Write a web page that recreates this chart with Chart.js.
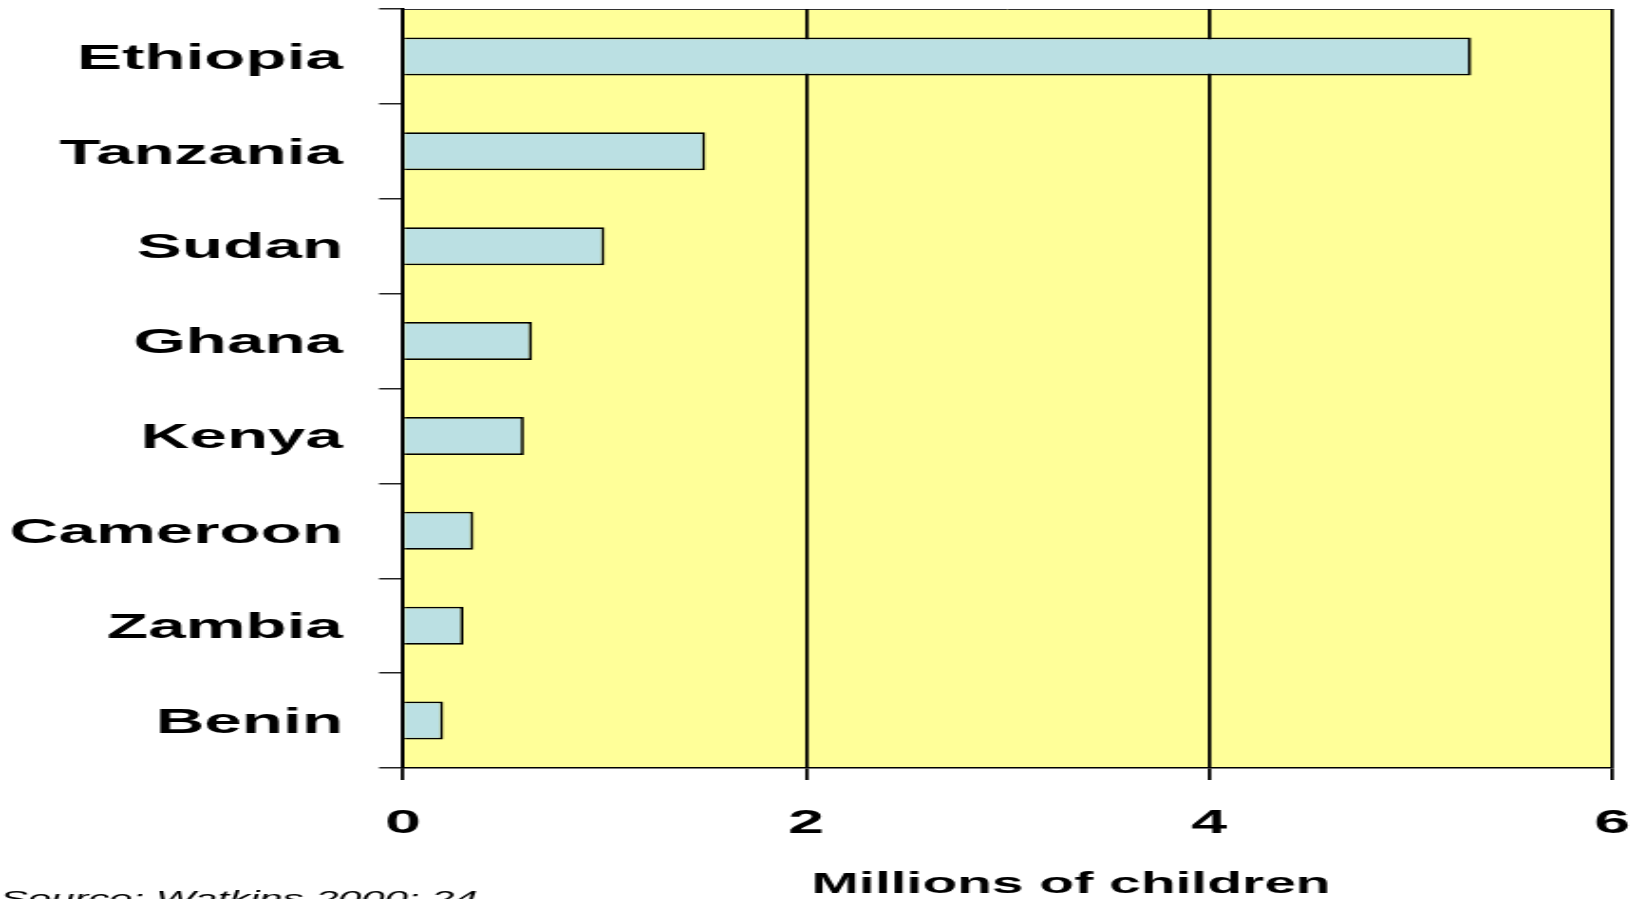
<!DOCTYPE html>
<html>
<head>
<meta charset="utf-8">
<script src="https://cdn.jsdelivr.net/npm/chart.js@4"></script>
<style>
  html, body { margin: 0; padding: 0; background: #fff; overflow: hidden; }
  /* the chart is laid out narrow and stretched sideways to the full page width */
  #wrap {
    width: 862px;
    height: 899px;
    transform: scaleX(1.899);
    transform-origin: 0 0;
  }
</style>
</head>
<body>
<div id="wrap"><canvas id="childrenChart"></canvas></div>
<script>
const countries = ['Ethiopia', 'Tanzania', 'Sudan', 'Ghana', 'Kenya', 'Cameroon', 'Zambia', 'Benin'];
const millionsOfChildren = [5.3, 1.5, 1.0, 0.64, 0.6, 0.35, 0.3, 0.2];
const xTicks = [0, 2, 4, 6];
const axisTitle = 'Millions of children';
const sourceNote = 'Source: Watkins 2000: 24';

const FONT = '"Liberation Sans", Arial, sans-serif';

// yellow plot area with a thin top edge
const plotBackground = {
    id: 'plotBackground',
    beforeDraw(chart) {
        const { ctx, chartArea: a } = chart;
        ctx.save();
        ctx.fillStyle = '#FFFF99';
        ctx.fillRect(a.left, a.top, a.width, a.height);
        ctx.strokeStyle = '#333';
        ctx.lineWidth = 1;
        ctx.beginPath();
        ctx.moveTo(a.left, a.top + 0.5);
        ctx.lineTo(a.right, a.top + 0.5);
        ctx.stroke();
        ctx.restore();
    }
};

// axis caption and source line under the chart
const captions = {
    id: 'captions',
    afterDraw(chart) {
        const ctx = chart.ctx;
        ctx.save();
        ctx.fillStyle = '#000';
        ctx.textBaseline = 'alphabetic';
        ctx.font = `bold 30px ${FONT}`;
        ctx.textAlign = 'center';
        ctx.fillText(axisTitle, 564, 893);
        ctx.font = `italic 22px ${FONT}`;
        ctx.textAlign = 'left';
        ctx.fillText(sourceNote, 0, 906);
        ctx.restore();
    }
};

const ctx = document.getElementById('childrenChart').getContext('2d');
new Chart(ctx, {
    type: 'bar',
    data: {
        labels: countries,
        datasets: [{
            data: millionsOfChildren,
            backgroundColor: '#BBE0E3',
            borderColor: '#000',
            borderWidth: 1.7,
            borderSkipped: 'left',
            barPercentage: 0.4,
            categoryPercentage: 1
        }]
    },
    options: {
        indexAxis: 'y',
        responsive: true,
        maintainAspectRatio: false,
        animation: false,
        events: [],
        layout: { padding: { top: 9, right: 13, left: 0, bottom: 0 } },
        plugins: {
            legend: { display: false },
            tooltip: { enabled: false }
        },
        scales: {
            x: {
                min: 0,
                max: 6,
                afterBuildTicks: scale => {
                    scale.ticks = xTicks.map(v => ({ value: v }));
                },
                afterFit: scale => {
                    scale.height = 131;
                    scale.paddingLeft = 0;
                    scale.paddingRight = 0;
                },
                grid: {
                    color: '#000',
                    lineWidth: 1.8,
                    tickLength: 12
                },
                border: { display: true, color: '#000', width: 1.5 },
                ticks: {
                    color: '#000',
                    padding: 23,
                    maxRotation: 0,
                    font: { family: FONT, size: 34, weight: 'bold' }
                }
            },
            y: {
                afterFit: scale => {
                    scale.width = 212.2;
                    scale.paddingTop = 0;
                    scale.paddingBottom = 0;
                },
                grid: {
                    drawOnChartArea: false,
                    color: '#222',
                    lineWidth: 1.5,
                    tickLength: 12.6
                },
                border: { display: true, color: '#000', width: 2 },
                ticks: {
                    color: '#000',
                    padding: 19,
                    labelOffset: 2.5,
                    font: { family: FONT, size: 35.5, weight: 'bold' }
                }
            }
        }
    },
    plugins: [plotBackground, captions]
});
</script>
</body>
</html>
